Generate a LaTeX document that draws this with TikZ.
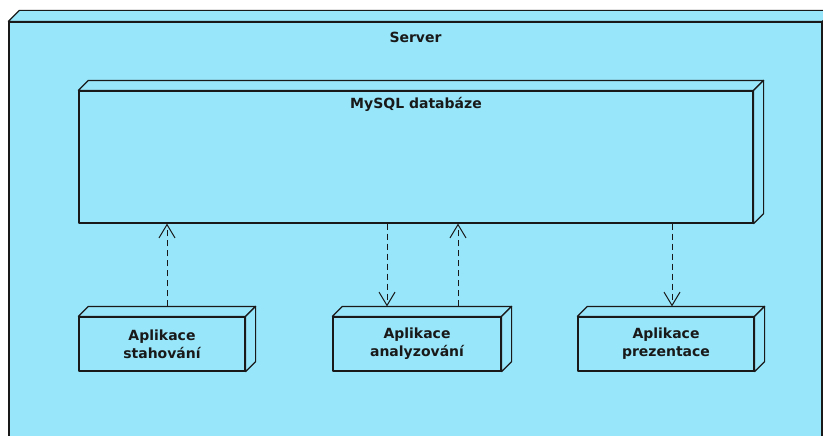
\documentclass[tikz,border=0pt]{standalone}
\usepackage{fontspec}
\setmainfont{DejaVu Sans}
\usetikzlibrary{arrows.meta}
\definecolor{boxc}{RGB}{152,230,250}
\definecolor{linec}{RGB}{25,25,25}
\tikzset{
  face/.style={draw=linec, fill=boxc, line width=0.9pt, line join=round},
  lab/.style={font=\bfseries\fontsize{10.5}{13.5}\selectfont, text=linec, align=center},
  box3d/.style={face, rectangle, inner sep=0pt, lab},
  dep/.style={draw=linec, line width=0.75pt, dash pattern=on 4.5pt off 3pt,
    -{Straight Barb[length=10pt,width=12pt,line width=0.75pt]}},
}
\begin{document}
\begin{tikzpicture}[x=0.75pt,y=-0.75pt]
\useasboundingbox (0,0) rectangle (823,435);
\clip (0,0) rectangle (823,435);
% server
\node[box3d, minimum width=609.75pt, minimum height=330pt] (srv) at (415.5,242) {};
\draw[face] (srv.north west) -- ([shift={(11,-11)}]srv.north west) -- ([shift={(11,-11)}]srv.north east) -- (srv.north east) -- cycle;
\draw[face] (srv.north east) -- ([shift={(11,-11)}]srv.north east) -- ([shift={(11,-11)}]srv.south east) -- (srv.south east) -- cycle;
\node[lab] (srvt) at (415.5,37) {Server};
% database
\node[box3d, minimum width=505.5pt, minimum height=99pt] (db) at (416,157) {};
\node[lab] (dbt) at (416,104) {MySQL databáze};
% applications
\node[box3d, minimum width=124.5pt, minimum height=40.5pt] (a1) at (162,344) {Aplikace\\stahování};
\node[box3d, minimum width=126pt, minimum height=40.5pt] (a2) at (417,344) {Aplikace\\analyzování};
\node[box3d, minimum width=132pt, minimum height=40.5pt] (a3) at (666,344) {Aplikace\\prezentace};
\foreach \n in {db,a1,a2,a3}{
  \draw[face] (\n.north west) -- ([shift={(10,-10)}]\n.north west) -- ([shift={(10,-10)}]\n.north east) -- (\n.north east) -- cycle;
  \draw[face] (\n.north east) -- ([shift={(10,-10)}]\n.north east) -- ([shift={(10,-10)}]\n.south east) -- (\n.south east) -- cycle;
}
% connectors
\coordinate (t1) at ([shift={(5,-10)}]a1.north);
\coordinate (t2a) at ([shift={(-30,-10)}]a2.north);
\coordinate (t2b) at ([shift={(41,-10)}]a2.north);
\coordinate (t3) at ([shift={(6,-10)}]a3.north);
\draw[dep] (t1) -- (t1 |- db.south);
\draw[dep] (t2a |- db.south) -- (t2a);
\draw[dep] (t2b) -- (t2b |- db.south);
\draw[dep] (t3 |- db.south) -- (t3);
\end{tikzpicture}
\end{document}
